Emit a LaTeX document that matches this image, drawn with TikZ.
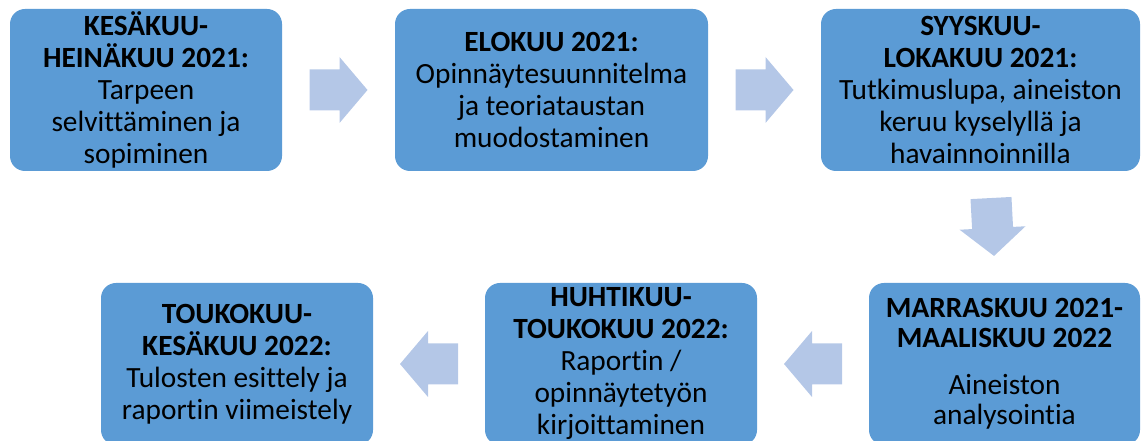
\documentclass[tikz,border=0pt]{standalone}
\usepackage{fontspec}
\setmainfont{Carlito}[Ligatures=NoCommon]
\usetikzlibrary{calc}
\definecolor{phaseblue}{HTML}{5B9BD5}
\definecolor{arrowblue}{HTML}{B4C7E7}
\tikzset{
  phase/.style={rectangle, rounded corners=11.25pt, fill=phaseblue, align=center,
    inner sep=0pt, minimum height=121.5pt, font=\fontsize{22}{24}\selectfont},
}
%block arrow: centre, direction
\newcommand{\phasearrow}[2]{%
  \fill[arrowblue, shift={(#1)}, rotate=#2]
    (-29,-20.5) -- (1,-20.5) -- (1,-33) -- (29,0) -- (1,33) -- (1,20.5) -- (-29,20.5) -- cycle;}

\begin{document}
\begin{tikzpicture}[x=0.75pt, y=0.75pt]
\useasboundingbox (0,0) rectangle (1141,441);
\clip (0,0) rectangle (1141,441);

%top row
\node[phase, minimum width=204pt] (k1) at (146,351)
  {\textbf{KESÄKUU-}\\\textbf{HEINÄKUU 2021:}\\Tarpeen\\selvittäminen ja\\sopiminen};
\node[phase, minimum width=234.75pt] (k2) at (551.5,351)
  {\textbf{ELOKUU 2021:}\\Opinnäytesuunnitelma\\ja teoriataustan\\muodostaminen};
\node[phase, minimum width=239.25pt] (k3) at (980.5,351)
  {\textbf{SYYSKUU-}\\\textbf{LOKAKUU 2021:}\\Tutkimuslupa, aineiston\\keruu kyselyllä ja\\havainnoinnilla};

%bottom row (runs off the lower edge)
\node[phase, minimum width=203.25pt] (k4) at (1004.5,77)
  {\textbf{MARRASKUU 2021-}\\[-1.5pt]\textbf{MAALISKUU 2022}\\[11pt]Aineiston\\[-1.5pt]analysointia};
\node[phase, minimum width=204pt] (k5) at (621,77)
  {\textbf{HUHTIKUU-}\\\textbf{TOUKOKUU 2022:}\\Raportin /\\opinnäytetyön\\kirjoittaminen};
\node[phase, minimum width=204pt] (k6) at (237,77)
  {\textbf{TOUKOKUU-}\\\textbf{KESÄKUU 2022:}\\Tulosten esittely ja\\raportin viimeistely};

%arrow centres, halfway between boxes
\coordinate (a12) at ($(k1.east)!0.5!(k2.west)$);
\coordinate (a23) at ($(k2.east)!0.5!(k3.west)$);
\coordinate (a34) at ($(k3.south)!0.5!(k4.north)$);
\coordinate (a45) at ($(k4.west)!0.5!(k5.east)$);
\coordinate (a56) at ($(k5.west)!0.5!(k6.east)$);

\phasearrow{a12}{0}
\phasearrow{a23}{0}
\phasearrow{a34}{-87}
\phasearrow{a45}{180}
\phasearrow{a56}{180}

\end{tikzpicture}
\end{document}
